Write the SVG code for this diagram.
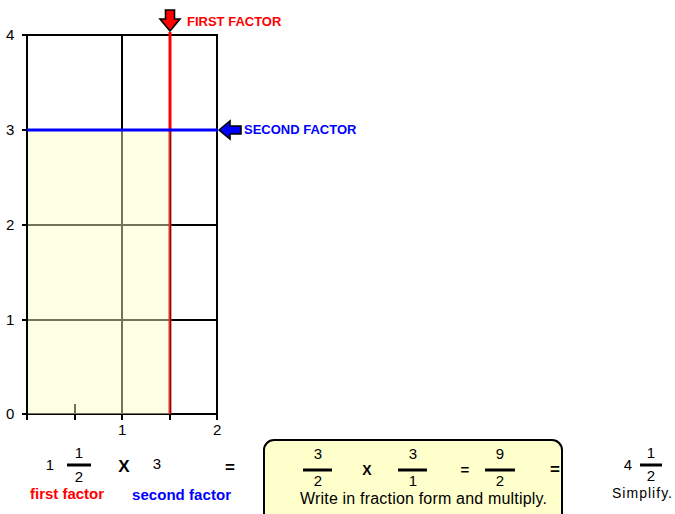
<svg xmlns="http://www.w3.org/2000/svg" width="675" height="514" viewBox="0 0 675 514">
<style>
text{font-family:"Liberation Sans",Arial,sans-serif;fill:#000}
.ax{font-size:15px}
.b{font-weight:bold}
.grid{stroke:#000;stroke-width:2;fill:none}
.num{font-size:15px;text-anchor:middle}
.frac{stroke:#000;stroke-width:3}
</style>
<rect width="675" height="514" fill="#fff"/>
<g id="chart">
  <rect x="27" y="35" width="190" height="379" fill="#fff" stroke="#000" stroke-width="2"/>
  <g class="grid">
    <line x1="122" y1="35" x2="122" y2="414"/>
    <line x1="27" y1="225" x2="217" y2="225"/>
    <line x1="27" y1="320" x2="217" y2="320"/>
    <line x1="22" y1="35" x2="27" y2="35"/>
    <line x1="22" y1="130" x2="27" y2="130"/>
    <line x1="22" y1="225" x2="27" y2="225"/>
    <line x1="22" y1="320" x2="27" y2="320"/>
    <line x1="22" y1="414" x2="27" y2="414"/>
    <line x1="27" y1="414" x2="27" y2="420"/>
    <line x1="75" y1="404" x2="75" y2="420"/>
    <line x1="122" y1="414" x2="122" y2="420"/>
    <line x1="170" y1="414" x2="170" y2="420"/>
    <line x1="217" y1="414" x2="217" y2="420"/>
  </g>
  <line x1="170" y1="32" x2="170" y2="130" stroke="#ff0000" stroke-width="3"/>
  <rect x="28" y="130" width="142" height="284" fill="#ffffc8" fill-opacity="0.45"/>
  <line x1="170" y1="130" x2="170" y2="414" stroke="#e03030" stroke-width="3"/>
  <line x1="170.5" y1="130" x2="170.5" y2="414" stroke="#7a1010" stroke-width="1"/>
  <line x1="27" y1="130" x2="218" y2="130" stroke="#0000ff" stroke-width="3"/>
  <text class="ax" x="6" y="40">4</text>
  <text class="ax" x="6" y="135">3</text>
  <text class="ax" x="6" y="230">2</text>
  <text class="ax" x="6" y="325">1</text>
  <text class="ax" x="6" y="419">0</text>
  <text class="ax" x="118" y="435">1</text>
  <text class="ax" x="213" y="435">2</text>
</g>
<g id="first-factor-marker">
  <polygon points="165.5,10 174.5,10 174.5,19 180,19 170,31 160,19 165.5,19" fill="#ff0000" stroke="#000" stroke-width="1.6" stroke-linejoin="miter"/>
  <text class="b" x="187" y="26" font-size="13" style="fill:#ff0000">FIRST FACTOR</text>
</g>
<g id="second-factor-marker">
  <polygon points="219,130 230,121 230,126 241,126 241,134 230,134 230,139" fill="#0000ff" stroke="#000" stroke-width="1.6"/>
  <text class="b" x="244" y="134" font-size="13" style="fill:#0000ff">SECOND FACTOR</text>
</g>
<g id="problem">
  <text class="num" x="50" y="470">1</text>
  <text class="num" x="79" y="458">1</text>
  <line class="frac" x1="67" y1="465" x2="91" y2="465"/>
  <text class="num" x="79" y="482">2</text>
  <text class="b" x="124" y="472" font-size="17" text-anchor="middle">X</text>
  <text class="num" x="157" y="469" font-size="14">3</text>
  <text class="b" x="230" y="473" font-size="17" text-anchor="middle">=</text>
  <text class="b" x="30" y="499" font-size="15" textLength="74" style="fill:#ff0000">first factor</text>
  <text class="b" x="132" y="500" font-size="15" textLength="99" style="fill:#0000ff">second factor</text>
</g>
<g id="fraction-box">
  <rect x="264" y="440" width="298" height="84" rx="10" fill="#ffffcc" stroke="#000" stroke-width="2"/>
  <text class="num" x="318" y="459">3</text>
  <line class="frac" x1="303" y1="470" x2="332" y2="470"/>
  <text class="num" x="318" y="486">2</text>
  <text class="b" x="367" y="475" font-size="14" text-anchor="middle">X</text>
  <text class="num" x="413" y="459">3</text>
  <line class="frac" x1="398" y1="470" x2="427" y2="470"/>
  <text class="num" x="413" y="486">1</text>
  <text class="b" x="465" y="475" font-size="15" text-anchor="middle">=</text>
  <text class="num" x="500" y="459">9</text>
  <line class="frac" x1="485" y1="470" x2="515" y2="470"/>
  <text class="num" x="500" y="486">2</text>
  <text class="b" x="555" y="475" font-size="17" text-anchor="middle">=</text>
  <text x="300" y="504" font-size="16" textLength="247">Write in fraction form and multiply.</text>
</g>
<g id="simplified">
  <text class="num" x="628" y="470">4</text>
  <text class="num" x="651" y="458">1</text>
  <line class="frac" x1="640" y1="465" x2="662" y2="465"/>
  <text class="num" x="651" y="481" font-size="14">2</text>
  <text x="612" y="498" font-size="14" textLength="60">Simplify.</text>
</g>
</svg>
